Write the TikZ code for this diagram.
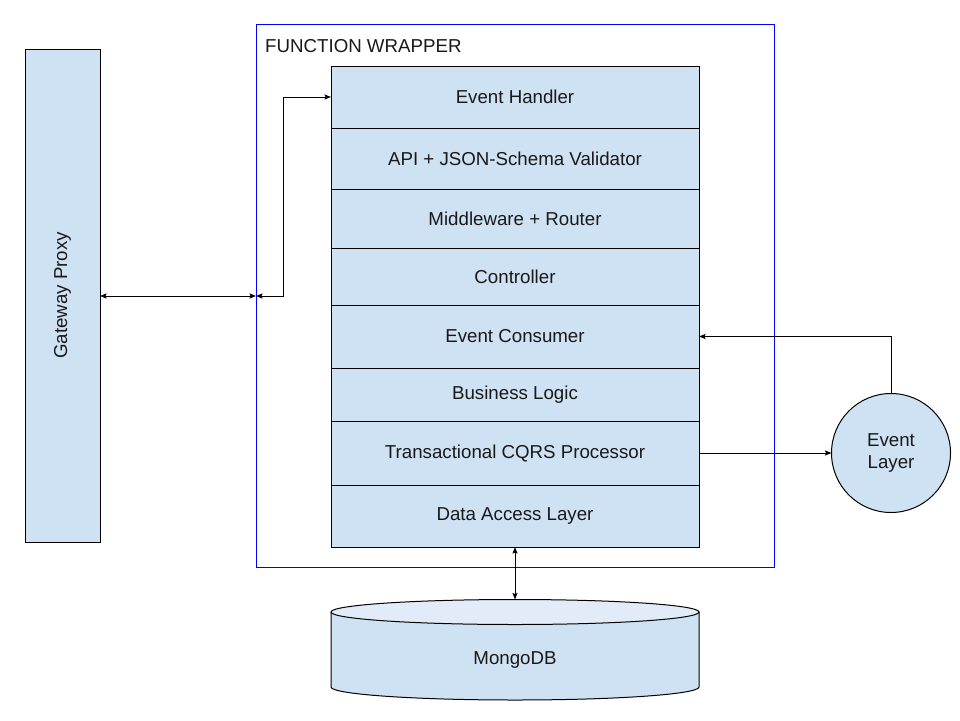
\documentclass[tikz,border=0pt]{standalone}
\usepackage{fontspec}
\setmainfont{Liberation Sans}
\usetikzlibrary{arrows.meta}
\definecolor{boxblue}{HTML}{CFE2F3}
\definecolor{toplight}{HTML}{E1ECF8}
\begin{document}
\begin{tikzpicture}[x=1pt,y=1pt,
  lbl/.style={font=\fontsize{18.7}{22.5}\selectfont, text=black!90},
  layer/.style={draw=black, fill=boxblue, line width=1pt, minimum width=368pt, anchor=north, inner sep=0pt, outer sep=0pt, lbl},
  tip/.tip={Stealth[length=6.5pt,width=5pt,inset=1pt]},
  conn/.style={line width=1pt, tip-tip},
  oneway/.style={line width=1pt, -tip}]
\useasboundingbox (0,0) rectangle (960,-720);
\fill[white] (0,0) rectangle (960,-720);
% function wrapper
\node[draw=blue, line width=1pt, minimum width=518pt, minimum height=543pt, anchor=north west, inner sep=0pt, outer sep=0pt] (fw) at (256,-24) {};
\node[lbl, anchor=west, inner sep=0pt] (fwl) at (265,-46) {FUNCTION WRAPPER};
% gateway
\node[draw=black, fill=boxblue, line width=1pt, minimum width=75pt, minimum height=493pt, anchor=north west, inner sep=0pt, outer sep=0pt] (gw) at (25,-49) {};
\node[lbl, rotate=90] (gwl) at (gw.center) {Gateway Proxy};
% layers
\node[layer, minimum height=62pt] (eh) at (515,-66) {Event Handler};
\node[layer, minimum height=61pt] (api) at (eh.south) {API + JSON-Schema Validator};
\node[layer, minimum height=59pt] (mw) at (api.south) {Middleware + Router};
\node[layer, minimum height=57pt] (ctl) at (mw.south) {Controller};
\node[layer, minimum height=63pt] (ec) at (ctl.south) {Event Consumer};
\node[layer, minimum height=53pt] (bl) at (ec.south) {Business Logic};
\node[layer, minimum height=64pt] (tp) at (bl.south) {Transactional CQRS Processor};
\node[layer, minimum height=62pt] (dal) at (tp.south) {Data Access Layer};
% event layer
\node[circle, draw=black, fill=boxblue, line width=1pt, minimum size=119pt, inner sep=0pt, outer sep=0pt, lbl, align=center] (el) at (891,-453) {Event\\Layer};
% MongoDB cylinder
\fill[boxblue] (331,-612) -- (331,-687) arc[start angle=180,end angle=360,x radius=184,y radius=13] -- (699,-612) -- cycle;
\draw[line width=1pt] (331,-612) -- (331,-687) arc[start angle=180,end angle=360,x radius=184,y radius=13] -- (699,-612);
\draw[line width=1pt, fill=toplight] (515,-612) ellipse[x radius=184, y radius=12.5];
\node[lbl] (mdb) at (515,-660) {MongoDB};
\coordinate (mtop) at (515,-599.5);
% connectors
\coordinate (wl) at (256,-296);
\coordinate (bend) at (283,-296);
\draw[conn] (gw.east |- wl) -- (wl);
\draw[conn] (wl) -- (bend) |- (eh.west);
\draw[oneway] (el.north) |- (ec.east);
\draw[oneway] (tp.east) -- (el.west);
\draw[conn] (dal.south) -- (mtop);
\end{tikzpicture}
\end{document}
